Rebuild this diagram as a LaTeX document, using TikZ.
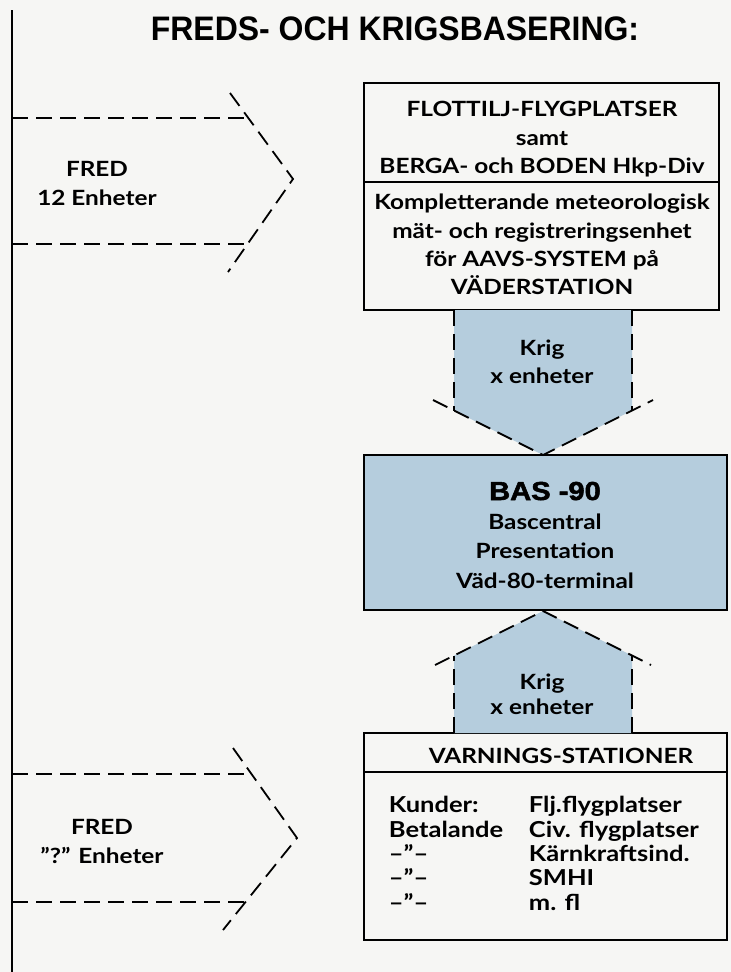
\documentclass[tikz,border=0pt]{standalone}
\usepackage{fontspec}
\setmainfont[FakeStretch=1.16]{Lato}
\newfontfamily\titlefont[FakeStretch=0.94]{Liberation Sans}
\newfontfamily\heavyfont[FakeStretch=1.12,BoldFeatures={FakeBold=2}]{Liberation Sans}
\definecolor{bgcol}{RGB}{246,246,244}
\definecolor{arrowblue}{RGB}{181,205,221}
\begin{document}
\begin{tikzpicture}[x=1pt,y=-1pt,line width=1.8pt,
  dsh/.style={line width=1.8pt,dash pattern=on 16pt off 8pt},
  txt/.style={font=\bfseries\fontsize{21}{25}\selectfont,anchor=base,inner sep=0pt},
  txtw/.style={txt,anchor=base west,font=\bfseries\fontsize{22}{25}\selectfont},
  boxst/.style={draw,line width=1.8pt,inner sep=0pt,rectangle}]
\fill[bgcol] (0,0) rectangle (731,972);
\useasboundingbox (0,0) rectangle (731,972);

% title
\node[anchor=base,inner sep=0pt,font=\titlefont\bfseries\fontsize{34}{38}\selectfont] (title) at (395,40) {FREDS- OCH KRIGSBASERING:};

% left vertical line
\coordinate (vtop) at (12,10);
\coordinate (vbot) at (12,972);
\draw (vtop) -- (vbot);

% top left arrow
\coordinate (a1t) at (12,118);
\coordinate (a1b) at (12,244);
\coordinate (a1w1) at (230,93);
\coordinate (a1tip) at (293,179);
\coordinate (a1w2) at (228,272);
\draw[dsh] (a1t) -- (248,118);
\draw[dsh] (a1b) -- (248,244);
\draw[dsh] (a1w1) -- (a1tip) -- (a1w2);
\node[txt] (fred1) at (97,176) {FRED};
\node[txt] (enh1) at (97,205) {12 Enheter};

% bottom left arrow
\coordinate (a2t) at (12,774);
\coordinate (a2b) at (12,902);
\coordinate (a2w1) at (233,748);
\coordinate (a2tip) at (297,838);
\coordinate (a2w2) at (223,930);
\draw[dsh] (a2t) -- (251.5,774);
\draw[dsh] (a2b) -- (245.5,902);
\draw[dsh] (a2w1) -- (a2tip) -- (a2w2);
\node[txt] (fred2) at (102,834) {FRED};
\node[txt] (enh2) at (102,863) {”?” Enheter};

% top box
\node[boxst,fill=bgcol,minimum width=355pt,minimum height=227pt] (topbox) at (541.5,196.5) {};
\draw (topbox.west |- 0,182) -- (topbox.east |- 0,182);
\node[txt] (t1) at (542,116) {FLOTTILJ-FLYGPLATSER};
\node[txt] (t2) at (542,145) {samt};
\node[txt] (t3) at (542,173) {BERGA- och BODEN Hkp-Div};
\node[txt] (t4) at (542,209) {Kompletterande meteorologisk};
\node[txt] (t5) at (542,238) {mät- och registreringsenhet};
\node[txt] (t6) at (542,266) {för AAVS-SYSTEM på};
\node[txt] (t7) at (542,294) {VÄDERSTATION};

% BAS box
\node[boxst,fill=arrowblue,minimum width=363pt,minimum height=155pt] (bas) at (545.5,532.5) {};
\node[anchor=base,inner sep=0pt,font=\heavyfont\bfseries\fontsize{26}{30}\selectfont] (b1) at (545,500) {BAS -90};
\node[txt] (b2) at (545,529) {Bascentral};
\node[txt] (b3) at (545,558) {Presentation};
\node[txt] (b4) at (545,588) {Väd-80-terminal};

% down arrow (top box -> BAS)
\coordinate (dtip) at (543,455);
\fill[arrowblue] (454,310) -- (454,410.5) -- (dtip) -- (632,410.5) -- (632,310) -- cycle;
\draw[dsh] (454,310) -- (454,410.5);
\draw[dsh] (632,310) -- (632,410.5);
\draw[dsh] (433,400) -- (dtip) -- (653,400);
\node[txt] (k1) at (542,355) {Krig};
\node[txt] (k2) at (542,383) {x enheter};

% VARNINGS box
\node[boxst,fill=bgcol,minimum width=363pt,minimum height=207pt] (varn) at (545.5,836.5) {};
\draw (varn.west |- 0,772) -- (varn.east |- 0,772);
\node[txt] (v0) at (561,763) {VARNINGS-STATIONER};
\node[txtw] (l1) at (388,812) {Kunder:};
\node[txtw] (l2) at (388,837) {Betalande};
\node[txtw] (l3) at (388,861) {–”–};
\node[txtw] (l4) at (388,885) {–”–};
\node[txtw] (l5) at (388,910) {–”–};
\node[txtw] (r1) at (528,812) {Flj.flygplatser};
\node[txtw] (r2) at (528,837) {Civ. flygplatser};
\node[txtw] (r3) at (528,861) {Kärnkraftsind.};
\node[txtw] (r4) at (528,885) {SMHI};
\node[txtw] (r5) at (528,910) {m. fl};

% up arrow (VARNINGS -> BAS)
\coordinate (utip) at (543,611);
\fill[arrowblue] (454,733) -- (454,655.5) -- (utip) -- (632,655.5) -- (632,733) -- cycle;
\draw[dsh] (454,733) -- (454,655.5);
\draw[dsh] (632,733) -- (632,655.5);
\draw[dsh] (435,665) -- (utip) -- (651,665);
\node[txt] (k3) at (542,689) {Krig};
\node[txt] (k4) at (542,714) {x enheter};
\end{tikzpicture}
\end{document}
